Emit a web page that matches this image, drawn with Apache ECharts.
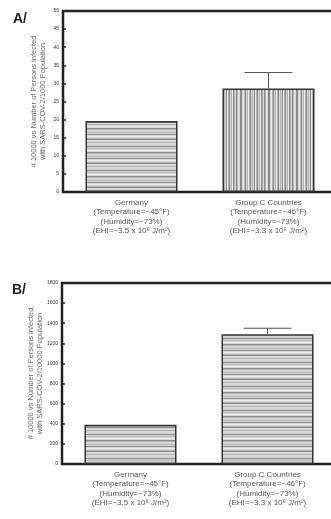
<!DOCTYPE html>
<html>
<head>
<meta charset="utf-8">
<script src="https://cdn.jsdelivr.net/npm/echarts@6/dist/echarts.min.js"></script>
<style>
  html, body { margin: 0; padding: 0; background: #fff; }
  #chart { width: 331px; height: 519px; }
</style>
</head>
<body>
<div id="chart"></div>
<script type="text/javascript">
// data
var categories = ['Germany', 'Group C Countries'];
var climateLabels = [
  'Germany\n(Temperature=~45°F)\n(Humidity=~73%)\n(EHI=~3.5 x 10⁶ J/m²)',
  'Group C Countries\n(Temperature=~46°F)\n(Humidity=~73%)\n(EHI=~3.3 x 10⁶ J/m²)'
];
var valuesA = [19.6, 28.6];
var errorA = [0, 4.4];
var valuesB = [390, 1290];
var errorB = [0, 60];
var ticksA = { min: 0, max: 50, interval: 5 };
var ticksB = { min: 0, max: 1800, interval: 200 };

// striped fills like the scanned hatching
function stripes(horizontal, rows) {
  var c = document.createElement('canvas');
  var n = rows.length;
  c.width = horizontal ? 8 : n;
  c.height = horizontal ? n : 8;
  var ctx = c.getContext('2d');
  for (var i = 0; i < n; i++) {
    ctx.fillStyle = rows[i];
    if (horizontal) ctx.fillRect(0, i, 8, 1);
    else ctx.fillRect(i, 0, 1, 8);
  }
  return { image: c, repeat: 'repeat' };
}
var L = '#d6d6d6', M = '#b4b4b4', D = '#8a8a8a', W = '#ececec';
var hRows = [L, L, D, L, M, L, W, L, D, M, L, L, M, L, D, L, W, L, M, D, L, L, M, L];
var vRows = [M, L, D, W, M, D, L, M, W, D, M, L, D, M, W, L, D, D, L, W, M, D, L, M, W, M, D, L];
var fillH = stripes(true, hRows);
var fillV = stripes(false, vRows);

function errData(vals, errs) {
  var out = [];
  for (var i = 0; i < vals.length; i++) out.push([i, vals[i], vals[i] + errs[i]]);
  return out;
}

function renderErr(params, api) {
  if (api.value(2) <= api.value(1)) return null;
  var base = api.coord([api.value(0), api.value(1)]);
  var top = api.coord([api.value(0), api.value(2)]);
  var half = 24;
  var st = { stroke: '#555', lineWidth: 1 };
  return {
    type: 'group',
    children: [
      { type: 'line', shape: { x1: base[0], y1: base[1], x2: top[0], y2: top[1] }, style: st },
      { type: 'line', shape: { x1: top[0] - half, y1: top[1], x2: top[0] + half, y2: top[1] }, style: st }
    ]
  };
}

var font = 'Liberation Sans, Arial, sans-serif';

function xAx(idx) {
  return {
    type: 'category', gridIndex: idx, data: climateLabels,
    axisLine: { lineStyle: { color: '#222', width: 2 } },
    axisTick: { inside: true, alignWithLabel: true, length: 2, lineStyle: { color: '#333' } },
    axisLabel: { interval: 0, fontSize: 8, lineHeight: 9.4, color: '#555', fontFamily: font, margin: 6 }
  };
}
function yAx(idx, t, name, gap) {
  return {
    type: 'value', gridIndex: idx, min: t.min, max: t.max, interval: t.interval,
    name: name, nameLocation: 'middle', nameRotate: 90, nameGap: gap, nameMoveOverlap: false,
    nameTextStyle: { fontSize: 7.5, lineHeight: 9, color: '#666', fontFamily: font },
    splitLine: { show: false },
    axisLine: { show: true, lineStyle: { color: '#222', width: 2 } },
    axisTick: { show: true, inside: true, length: 3, lineStyle: { color: '#222', width: 1.5 } },
    axisLabel: { fontSize: 5, color: '#333', fontFamily: font, margin: 4, formatter: function (v) { return String(v); } }
  };
}

var chart = echarts.init(document.getElementById('chart'));
var option = {
  animation: false,
  backgroundColor: '#fff',
  grid: [
    { left: 63, width: 274, top: 11, height: 181, outerBoundsMode: 'none', containLabel: false,
      show: true, borderColor: '#222', borderWidth: 2.5 },
    { left: 62, width: 274, top: 283, height: 181, outerBoundsMode: 'none', containLabel: false,
      show: true, borderColor: '#222', borderWidth: 2.5 }
  ],
  graphic: [
    { type: 'text', left: 13, top: 12, style: { text: 'A/', fontSize: 14, fontWeight: 'bold', fill: '#222', fontFamily: font } },
    { type: 'text', left: 12, top: 283, style: { text: 'B/', fontSize: 14, fontWeight: 'bold', fill: '#222', fontFamily: font } }
  ],
  xAxis: [xAx(0), xAx(1)],
  yAxis: [
    yAx(0, ticksA, '# 10000 vs Number of Persons infected\nwith SARS-COV-2/1000 Population', 16),
    yAx(1, ticksB, '# 10000 vs Number of Persons infected\nwith SARS-COV-2/10000 Population', 18)
  ],
  series: [
    {
      type: 'bar', xAxisIndex: 0, yAxisIndex: 0, barWidth: 92,
      data: [
        { value: valuesA[0], itemStyle: { color: fillH } },
        { value: valuesA[1], itemStyle: { color: fillV } }
      ],
      itemStyle: { borderColor: '#333', borderWidth: 1.5 }
    },
    {
      type: 'custom', xAxisIndex: 0, yAxisIndex: 0, renderItem: renderErr,
      data: errData(valuesA, errorA), z: 5
    },
    {
      type: 'bar', xAxisIndex: 1, yAxisIndex: 1, barWidth: 92,
      data: valuesB,
      itemStyle: { color: fillH, borderColor: '#333', borderWidth: 1.5 }
    },
    {
      type: 'custom', xAxisIndex: 1, yAxisIndex: 1, renderItem: renderErr,
      data: errData(valuesB, errorB), z: 5
    }
  ]
};
chart.setOption(option);
</script>
</body>
</html>
